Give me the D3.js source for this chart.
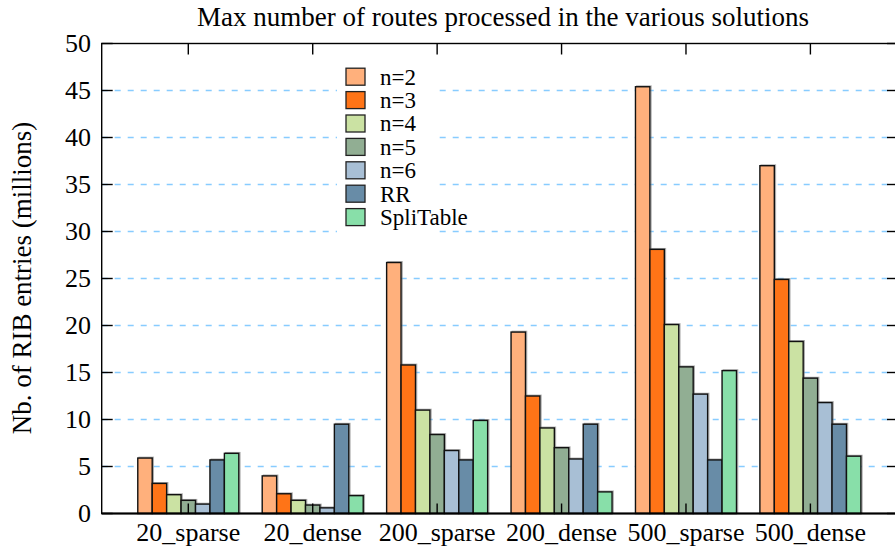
<!DOCTYPE html>
<html>
<head>
<meta charset="utf-8">
<script src="https://cdn.jsdelivr.net/npm/d3@7"></script>
<style>
  html, body { margin: 0; padding: 0; background: #fff; }
  svg { display: block; }
</style>
</head>
<body>
<svg id="chart" width="895" height="549" font-family="'Liberation Serif', 'Times New Roman', Times, 'DejaVu Serif', serif"></svg>
<script>
// Scenarios along the x axis
const categories = ["20_sparse", "20_dense", "200_sparse", "200_dense", "500_sparse", "500_dense"];
// Solutions compared within each scenario
const seriesNames = ["n=2", "n=3", "n=4", "n=5", "n=6", "RR", "SpliTable"];
const seriesColors = ["#ffb07c", "#ff7417", "#cbe2a3", "#91ae93", "#a8bfd5", "#688ca7", "#88dfa9"];
// Max RIB entries (millions), one array per solution, in category order
const n2 = [5.9, 4.0, 26.7, 19.3, 45.4, 37.0];
const n3 = [3.2, 2.1, 15.8, 12.5, 28.1, 24.9];
const n4 = [2.0, 1.4, 11.0, 9.1, 20.1, 18.3];
const n5 = [1.4, 0.9, 8.4, 7.0, 15.6, 14.4];
const n6 = [1.0, 0.6, 6.7, 5.8, 12.7, 11.8];
const rr = [5.7, 9.5, 5.7, 9.5, 5.7, 9.5];
const spliTable = [6.4, 1.9, 9.9, 2.3, 15.2, 6.1];
const yTicks = [0, 5, 10, 15, 20, 25, 30, 35, 40, 45, 50];

const seriesValues = [n2, n3, n4, n5, n6, rr, spliTable];

const svg = d3.select("#chart");
const plotLeft = 101.7, plotRight = 897, plotTop = 43.5, plotBottom = 513.5;

const x0 = d3.scaleBand().domain(categories).range([plotLeft, plotRight])
  .paddingInner(0.188).paddingOuter(0.29);
const x1 = d3.scaleBand().domain(seriesNames).range([0, x0.bandwidth()]).padding(0);
const y = d3.scaleLinear().domain([0, 50]).range([plotBottom, plotTop]);

// Dashed horizontal grid
svg.append("g").selectAll("line")
  .data(yTicks.filter(t => t > 0 && t < 50))
  .join("line")
  .attr("x1", plotLeft).attr("x2", plotRight)
  .attr("y1", d => y(d)).attr("y2", d => y(d))
  .attr("stroke", "#88ccff").attr("stroke-width", 1.3)
  .attr("stroke-dasharray", "6,7");

// Legend background hides the grid behind it
svg.append("rect")
  .attr("x", 337).attr("y", 58).attr("width", 100).attr("height", 178)
  .attr("fill", "#fff");

// Bars
const groups = svg.append("g").selectAll("g")
  .data(categories)
  .join("g")
  .attr("transform", c => `translate(${x0(c)},0)`);

groups.each(function (c, ci) {
  const g = d3.select(this);
  const rows = seriesNames.map((s, si) => ({ s, si, v: seriesValues[si][ci] }));
  g.selectAll("rect.shadow").data(rows).join("rect")
    .attr("class", "shadow")
    .attr("x", d => x1(d.s) + 1.2)
    .attr("y", d => y(d.v) - 0.8)
    .attr("width", x1.bandwidth())
    .attr("height", d => y(0) - y(d.v))
    .attr("fill", "none")
    .attr("stroke", "#777").attr("stroke-width", 1.2).attr("stroke-opacity", 0.6);
  g.selectAll("rect.bar").data(rows).join("rect")
    .attr("class", "bar")
    .attr("x", d => x1(d.s))
    .attr("y", d => y(d.v))
    .attr("width", x1.bandwidth())
    .attr("height", d => y(0) - y(d.v))
    .attr("fill", d => seriesColors[d.si])
    .attr("stroke", "#111").attr("stroke-width", 1.4);
});

// Frame
svg.append("rect")
  .attr("x", plotLeft).attr("y", plotTop)
  .attr("width", plotRight - plotLeft).attr("height", plotBottom - plotTop)
  .attr("fill", "none").attr("stroke", "#000").attr("stroke-width", 1.4);
svg.append("line").attr("x1", plotLeft).attr("x2", plotRight)
  .attr("y1", plotBottom).attr("y2", plotBottom)
  .attr("stroke", "#000").attr("stroke-width", 2);

// Y axis ticks (inward on both sides) and labels
const yt = svg.append("g");
yt.selectAll("line.l").data(yTicks).join("line").attr("class", "l")
  .attr("x1", plotLeft).attr("x2", plotLeft + 11)
  .attr("y1", d => y(d)).attr("y2", d => y(d))
  .attr("stroke", "#000").attr("stroke-width", 1.4);
yt.selectAll("line.r").data(yTicks).join("line").attr("class", "r")
  .attr("x1", plotRight - 10).attr("x2", plotRight)
  .attr("y1", d => y(d)).attr("y2", d => y(d))
  .attr("stroke", "#000").attr("stroke-width", 1.4);
yt.selectAll("text").data(yTicks).join("text")
  .attr("x", 91).attr("y", d => y(d) + 8.8)
  .attr("text-anchor", "end").attr("font-size", 26)
  .text(d => d);

// X axis ticks (inward top and bottom) and labels
const xt = svg.append("g");
const cx = c => x0(c) + x0.bandwidth() / 2;
xt.selectAll("line.t").data(categories).join("line").attr("class", "t")
  .attr("x1", cx).attr("x2", cx).attr("y1", plotTop).attr("y2", plotTop + 11)
  .attr("stroke", "#000").attr("stroke-width", 1.4);
xt.selectAll("line.b").data(categories).join("line").attr("class", "b")
  .attr("x1", cx).attr("x2", cx).attr("y1", plotBottom).attr("y2", plotBottom - 10)
  .attr("stroke", "#000").attr("stroke-width", 1.4);
xt.selectAll("text").data(categories).join("text")
  .attr("x", cx).attr("y", 541)
  .attr("text-anchor", "middle").attr("font-size", 26)
  .text(d => d);

// Legend
const legend = svg.append("g");
const rowY = i => 76.7 + i * 23.4;
legend.selectAll("rect").data(seriesNames).join("rect")
  .attr("x", 346).attr("y", (d, i) => rowY(i) - 8.5)
  .attr("width", 19).attr("height", 17)
  .attr("fill", (d, i) => seriesColors[i])
  .attr("stroke", "#222").attr("stroke-width", 1.3);
legend.selectAll("text").data(seriesNames).join("text")
  .attr("x", 380).attr("y", (d, i) => rowY(i) + 7.8)
  .attr("font-size", 23)
  .text(d => d);

// Title and y-axis label
svg.append("text")
  .attr("x", 503).attr("y", 26)
  .attr("text-anchor", "middle").attr("font-size", 27)
  .text("Max number of routes processed in the various solutions");
svg.append("text")
  .attr("transform", "translate(31,278) rotate(-90)")
  .attr("text-anchor", "middle").attr("font-size", 27)
  .text("Nb. of RIB entries (millions)");
</script>
</body>
</html>
